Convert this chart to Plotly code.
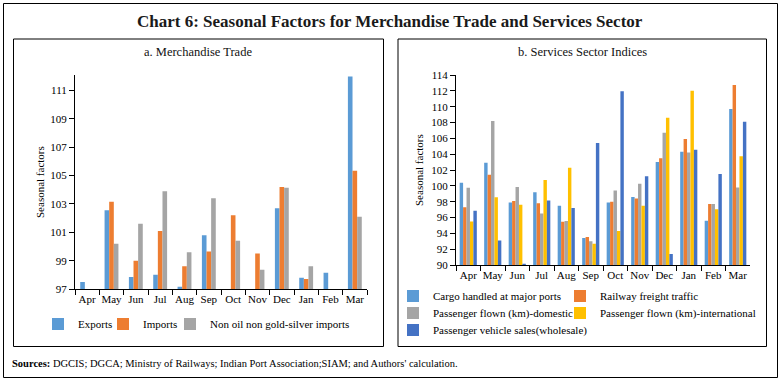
import plotly.graph_objects as go

W, H = 781, 383

# ---------------- data ----------------
months = ["Apr", "May", "Jun", "Jul", "Aug", "Sep", "Oct", "Nov", "Dec", "Jan", "Feb", "Mar"]

# a. Merchandise Trade
exports = [97.5, 102.55, 97.85, 98.0, 97.15, 100.8, None, None, 102.7, 97.8, 98.15, 112.0]
imports = [None, 103.15, 99.0, 101.1, 98.6, 99.65, 102.2, 99.5, 104.2, 97.7, None, 105.35]
non_oil = [None, 100.2, 101.6, 103.9, 99.6, 103.4, 100.4, 98.35, 104.15, 98.6, None, 102.1]

# b. Services Sector Indices
cargo = [100.4, 102.9, 97.9, 99.2, 97.5, 93.4, 97.9, 98.6, 103.0, 104.3, 95.6, 109.7]
railway = [97.3, 101.4, 98.1, 97.8, 95.45, 93.55, 98.0, 98.4, 103.5, 105.9, 97.7, 112.75]
pass_dom = [99.75, 108.2, 99.85, 96.5, 95.55, 93.0, 99.4, 100.25, 106.7, 104.2, 97.7, 99.8]
pass_intl = [95.5, 98.55, 97.6, 100.75, 102.3, 92.7, 94.3, 97.5, 108.6, 112.0, 97.05, 103.75]
vehicle = [96.85, 93.1, 90.15, 98.15, 97.2, 105.4, 111.95, 101.2, 91.4, 104.55, 101.5, 108.1]

left_ticks = [97, 99, 101, 103, 105, 107, 109, 111]
right_ticks = list(range(90, 115, 2))

FONT = "Liberation Serif"
C_LBLUE, C_ORANGE, C_GRAY, C_GOLD, C_DBLUE = "#5B9BD5", "#ED7D31", "#A5A5A5", "#FFC000", "#4472C4"


def px(x):
    return x / W


def py(y):
    return 1 - y / H


fig = go.Figure()

# left panel bars (each legend entry placed in its own legend box)
left_series = [("Exports", exports, C_LBLUE, "legend", 38),
               ("Imports", imports, C_ORANGE, "legend2", 103),
               ("Non oil non gold-silver imports", non_oil, C_GRAY, "legend3", 170)]
wl = 0.19
for i, (name, vals, col, lg, _) in enumerate(left_series):
    fig.add_trace(go.Bar(x=months, y=vals, name=name, marker_color=col,
                         width=wl, offset=-1.5 * wl + i * wl,
                         xaxis="x", yaxis="y", legend=lg))

# right panel bars
right_series = [("Cargo handled at major ports", cargo, C_LBLUE, "legend4", 393, 296),
                ("Railway freight traffic", railway, C_ORANGE, "legend5", 560, 296),
                ("Passenger flown (km)-domestic", pass_dom, C_GRAY, "legend6", 393, 313),
                ("Passenger flown (km)-international", pass_intl, C_GOLD, "legend7", 560, 313),
                ("Passenger vehicle sales(wholesale)", vehicle, C_DBLUE, "legend8", 393, 330)]
wr = 0.14
for i, (name, vals, col, lg, _, _) in enumerate(right_series):
    fig.add_trace(go.Bar(x=months, y=vals, name=name, marker_color=col,
                         width=wr, offset=-2.5 * wr + i * wr,
                         xaxis="x2", yaxis="y2", legend=lg))

axis_common = dict(showline=True, linecolor="black", linewidth=1, showgrid=False,
                   zeroline=False, ticks="outside", ticklen=5, tickcolor="black",
                   tickfont=dict(family=FONT, size=11, color="black"), automargin=False)

legend_style = dict(orientation="h", xanchor="left", yanchor="middle",
                    font=dict(family=FONT, size=11, color="black"),
                    bgcolor="rgba(0,0,0,0)", itemwidth=30)

legends = {}
for name, _, _, lg, x0 in left_series:
    legends[lg] = dict(x=px(x0), y=py(324), **legend_style)
for name, _, _, lg, x0, y0 in right_series:
    legends[lg] = dict(x=px(x0), y=py(y0), **legend_style)

fig.update_layout(
    template="none",
    width=W, height=H,
    margin=dict(l=0, r=0, t=0, b=0),
    paper_bgcolor="white", plot_bgcolor="white",
    barmode="overlay",
    font=dict(family=FONT, size=11, color="black"),
    xaxis=dict(domain=[px(75), px(367)], anchor="y", type="category", tickangle=0,
               tickson="boundaries", **axis_common),
    yaxis=dict(domain=[py(289), py(75)], anchor="x", range=[97, 112.1],
               tickvals=left_ticks, **axis_common),
    xaxis2=dict(domain=[px(456), px(750)], anchor="y2", type="category", tickangle=0,
                tickson="boundaries", **axis_common),
    yaxis2=dict(domain=[py(265), py(75)], anchor="x2", range=[90, 114],
                tickvals=right_ticks, **axis_common),
    showlegend=True,
    **legends,
)


# frames
def rect(x0, y0, x1, y1, w=1):
    fig.add_shape(type="rect", xref="paper", yref="paper",
                  x0=px(x0), x1=px(x1), y0=py(y1), y1=py(y0),
                  line=dict(color="black", width=w), fillcolor="rgba(0,0,0,0)", layer="below")


rect(3.5, 3.5, 777.5, 377.5)
rect(13.5, 39, 383.5, 346.5)
rect(398, 39, 766.5, 346.5)

anns = [
    dict(text="<b>Chart 6: Seasonal Factors for Merchandise Trade and Services Sector</b>",
         x=px(390), y=py(21), font=dict(size=17, color="#1a1a1a")),
    dict(text="a. Merchandise Trade", x=px(198), y=py(52), font=dict(size=12.5, color="#111")),
    dict(text="b. Services Sector Indices", x=px(582), y=py(52), font=dict(size=12.5, color="#111")),
    dict(text="Seasonal factors", x=px(40), y=py(182), textangle=-90, font=dict(size=11)),
    dict(text="Seasonal factors", x=px(419), y=py(170), textangle=-90, font=dict(size=11)),
]
for a in anns:
    fig.add_annotation(xref="paper", yref="paper", showarrow=False,
                       xanchor="center", yanchor="middle", **a)
fig.add_annotation(xref="paper", yref="paper", showarrow=False, xanchor="left", yanchor="middle",
                   x=px(10), y=py(363), font=dict(size=10.5),
                   text="<b>Sources:</b> DGCIS; DGCA; Ministry of Railways; Indian Port Association;SIAM; and Authors' calculation.")

fig.write_html("out.html", config={"displayModeBar": False},
               post_script="document.body.style.margin='0';")
